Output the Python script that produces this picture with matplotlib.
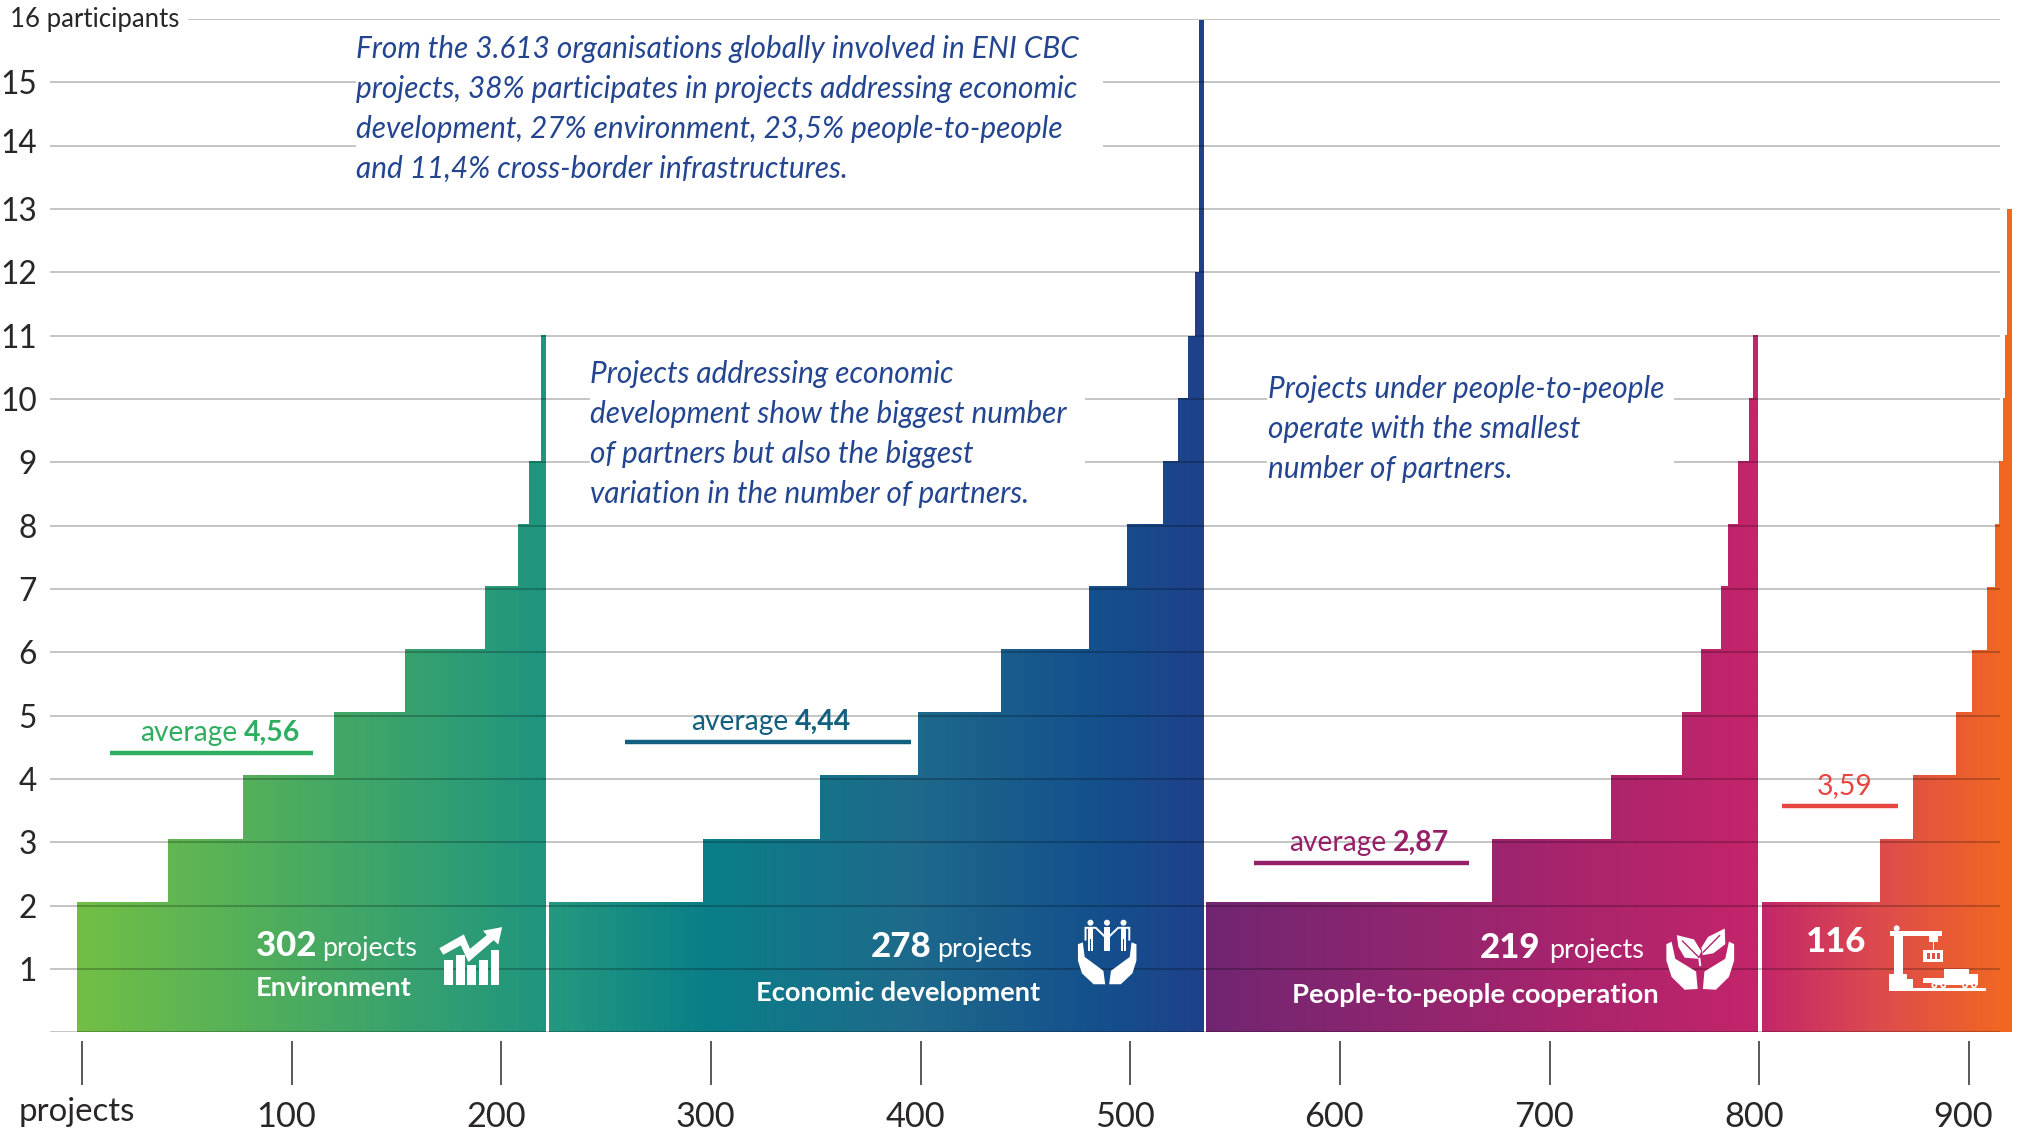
import matplotlib
matplotlib.use("Agg")
import numpy as np
import matplotlib.pyplot as plt
from matplotlib.colors import LinearSegmentedColormap
from matplotlib.patches import Polygon, Rectangle, Circle
from matplotlib.transforms import Affine2D, ScaledTranslation
from matplotlib.font_manager import FontProperties
from matplotlib.textpath import TextPath

# ---------- data (x values read on the "projects" axis, y on the "participants" axis) ----------
env_left = [-2.6, 41.0, 76.8, 120.4, 154.2, 192.0, 208.0, 213.0, 218.8]
env_top = [2.06, 3.06, 4.06, 5.06, 6.05, 7.05, 8.03, 9.02, 11.01]
env_right = 221.1
eco_left = [222.7, 296.2, 352.0, 398.6, 438.3, 480.2, 498.2, 515.7, 522.7, 527.7, 530.7, 532.8]
eco_top = [2.06, 3.06, 4.06, 5.06, 6.05, 7.05, 8.03, 9.02, 10.02, 11.0, 12.0, 15.98]
eco_right = 535.0
p2p_left = [536.3, 672.7, 729.3, 763.1, 772.3, 781.9, 785.0, 789.8, 794.9, 796.8]
p2p_top = [2.06, 3.06, 4.06, 5.06, 6.05, 7.05, 8.03, 9.02, 10.02, 11.01]
p2p_right = 799.2
inf_left = [801.2, 857.6, 873.5, 893.6, 901.6, 908.5, 912.4, 914.4, 916.4, 917.4, 918.3]
inf_top = [2.06, 3.06, 4.06, 5.06, 6.04, 7.03, 8.03, 9.02, 10.01, 11.01, 13.0]
inf_right = 920.5

env_stops = [(0, "#72bf44"), (1, "#1f9580")]
eco_stops = [(0, "#24997f"), (.24, "#0a7f88"), (.55, "#1e6a8b"), (.85, "#144f8d"), (1, "#1f4189")]
p2p_stops = [(0, "#712672"), (1, "#c4246a")]
inf_stops = [(0, "#c4266a"), (.45, "#dc4a4e"), (1, "#f3691f")]

avg_level = [4.41, 4.58, 2.67, 3.57]
avg_from = [13.3, 258.9, 559.0, 810.6]
avg_to = [110.3, 395.4, 661.6, 866.0]
avg_color = ["#2fae5f", "#135f7f", "#962067", "#e64540"]

x_ticks = [0, 100, 200, 300, 400, 500, 600, 700, 800, 900]
x_labels = ["", "100", "200", "300", "400", "500", "600", "700", "800", "900"]
y_ticks = list(range(1, 16))
grid_levels = list(range(0, 17))

note_1 = ["From the 3.613 organisations globally involved in ENI CBC",
          "projects, 38% participates in projects addressing economic",
          "development, 27% environment, 23,5% people-to-people",
          "and 11,4% cross-border infrastructures."]
note_2 = ["Projects addressing economic",
          "development show the biggest number",
          "of partners but also the biggest",
          "variation in the number of partners."]
note_3 = ["Projects under people-to-people",
          "operate with the smallest",
          "number of partners."]

# ---------- layout ----------
W, H = 2017, 1131
PX0, PXU = 82.0, 2.0966
Y0, Y16 = 1032.3, 19.0
FONT = "Lato"
INK = "#2a2627"
BLUE = "#234590"

fig = plt.figure(figsize=(W / 100, H / 100), dpi=100, facecolor="white")
ax = fig.add_axes([50 / W, (H - Y0) / H, (2013 - 50) / W, (Y0 - Y16) / H])
px = Affine2D().scale(1, -1).translate(0, H)   # figure pixels, top-left origin


def fit(s, width, **kw):
    fp = FontProperties(family=FONT, **kw)
    w = TextPath((0, 0), s, size=100, prop=fp).get_extents().width
    return 100 * width * 0.72 / w


def T(x, y, s, size, color=INK, **kw):
    ax.text(x, y + 1, s, transform=px, fontsize=size, color=color, family=FONT,
            va="baseline", ha=kw.pop("ha", "left"), clip_on=False, zorder=9, **kw)


def stairs(left, top, right, stops):
    xs, ys = [left[0]], [0]
    for i, (l, t) in enumerate(zip(left, top)):
        xs += [l, left[i + 1] if i + 1 < len(left) else right]
        ys += [t, t]
    xs += [right]
    ys += [0]
    poly = Polygon(np.column_stack([xs, ys]), closed=True, transform=ax.transData,
                   fc="none", ec="none")
    ax.add_patch(poly)
    cmap = LinearSegmentedColormap.from_list("g", stops, N=512)
    im = ax.imshow(np.linspace(0, 1, 512)[None, :], cmap=cmap, aspect="auto",
                   extent=(left[0], right, 0, max(top)), zorder=2, interpolation="bilinear")
    im.set_clip_path(poly)


stairs(env_left, env_top, env_right, env_stops)
stairs(eco_left, eco_top, eco_right, eco_stops)
stairs(p2p_left, p2p_top, p2p_right, p2p_stops)
stairs(inf_left, inf_top, inf_right, inf_stops)

ax.set_xlim((50 - PX0) / PXU, (2013 - PX0) / PXU)
ax.set_ylim(0, 16)

# gridlines over the bars
gx0 = (50 - PX0) / PXU
gx1 = (2000 - PX0) / PXU
for lv in grid_levels:
    start = (188 - PX0) / PXU if lv == 16 else gx0
    ax.hlines(lv, start, gx1, color="black", alpha=0.24, lw=1.35, zorder=3)

# white text backgrounds that interrupt the gridlines
for (a, b, c, d) in [(356, 30, 1103, 190), (590, 350, 1085, 510), (1267, 350, 1674, 490)]:
    ax.add_patch(Rectangle((a, b), c - a, d - b, transform=px, fc="white", ec="none", zorder=4))

# axes furniture
for s in ax.spines.values():
    s.set_visible(False)
ax.patch.set_visible(False)
ax.spines["bottom"].set_position(("outward", 6.5))
ax.set_xticks(x_ticks, x_labels)
ax.set_yticks(y_ticks, [str(v) for v in y_ticks])
size_tick = fit("100", 56)
ax.tick_params(axis="x", length=31.7, width=1.15, color="#333333", pad=11,
               labelsize=size_tick, labelcolor=INK)
ax.tick_params(axis="y", length=0, pad=9.4, labelsize=size_tick * 0.92, labelcolor=INK)
for lab in ax.get_xticklabels():
    lab.set_family(FONT)
    lab.set_transform(lab.get_transform() + ScaledTranslation(-4 / 72, 0, fig.dpi_scale_trans))
for v, lab in zip(y_ticks, ax.get_yticklabels()):
    lab.set_family(FONT)
    if v == 14:
        lab.set_transform(lab.get_transform() + ScaledTranslation(0, 3 / 72, fig.dpi_scale_trans))

T(10.5, 26.5, "16 participants", fit("16 participants", 166))
T(19, 1120, "projects", fit("projects", 113))

# notes
s1 = fit(note_1[1], 720, style="italic")
for line, y in zip(note_1, [56.7, 97.3, 136.7, 176.7]):
    T(356.3, y, line, s1, BLUE, style="italic")
for line, y in zip(note_2, [382, 422, 461.7, 502]):
    T(590.5, y, line, s1, BLUE, style="italic")
for line, y in zip(note_3, [396.7, 436.7, 476.7]):
    T(1267.5, y, line, s1, BLUE, style="italic")

# averages
ax.hlines(avg_level, avg_from, avg_to, colors=avg_color, lw=3.2, zorder=5)
s_avg = fit("average", 95)
s_avgb = fit("4,56", 55, weight="bold")
T(139.7, 739.5, "average", s_avg, avg_color[0])
T(243.8, 739.5, "4,56", s_avgb, avg_color[0], weight="bold")
T(691, 729, "average", s_avg, avg_color[1])
T(795, 729, "4,44", s_avgb, avg_color[1], weight="bold")
T(1289.6, 849.5, "average", s_avg, avg_color[2])
T(1392.8, 849.5, "2,87", s_avgb, avg_color[2], weight="bold")
T(1816.5, 793, "3,59", s_avgb, avg_color[3])

# white labels in the bars
s_num = fit("302", 58, weight="black")
s_prj = fit("projects", 92)
s_cat = fit("Economic development", 283, weight="bold")
for x, xp, y, n in [(255.6, 322, 955, "302"), (871, 937, 956, "278"), (1480, 1549, 957, "219")]:
    T(x, y, n, s_num, "white", weight="black")
    T(xp, y, "projects", s_prj, "white")
T(1805.5, 951.5, "116", s_num, "white", weight="black")
T(255.6, 995, "Environment", s_cat, "white", weight="bold")
T(756, 1000, "Economic development", s_cat, "white", weight="bold")
T(1291.7, 1001.7, "People-to-people cooperation", fit("People-to-people cooperation", 363, weight="bold"),
  "white", weight="bold")


# ---------- pictograms ----------
def poly(pts, x0, y0, kx, ky, fc="white", z=8):
    p = [(x0 + a / kx, y0 + b / ky) for a, b in pts]
    ax.add_patch(Polygon(p, closed=True, transform=px, fc=fc, ec="none", zorder=z, clip_on=False))


def line(pts, x0, y0, kx, ky, lw, color="white", z=8):
    xs = [x0 + a / kx for a, b in pts]
    ys = [y0 + b / ky for a, b in pts]
    ax.plot(xs, ys, transform=px, color=color, lw=lw, zorder=z, clip_on=False,
            solid_joinstyle="miter", solid_capstyle="butt")


def box(a, b, c, d, x0, y0, kx, ky, fc="white", z=8):
    poly([(a, b), (c, b), (c, d), (a, d)], x0, y0, kx, ky, fc, z)


def dot(a, b, r, x0, y0, kx, fc="white", ky=None, z=8):
    yy = y0 + b / (ky if ky else kx)
    ax.add_patch(Circle((x0 + a / kx, yy), r, transform=px, fc=fc, ec="none", zorder=z, clip_on=False))


# environment
e = (0, 560, 2.613, 2.746)
for a, c, top in [(1160, 1183, 1098), (1191, 1214, 1085), (1221, 1244, 1112), (1251, 1274, 1098), (1282, 1305, 1072)]:
    box(a, top, c, 1168, *e)
poly([(1148, 1066), (1212, 1028), (1228, 1068), (1272, 1030), (1262, 1018), (1312, 1008), (1302, 1056),
      (1290, 1044), (1224, 1104), (1204, 1058), (1158, 1084)], *e)

# economic development
c = (540, 560, 2.24, 2.746)
for cx in (1233, 1270, 1307):
    dot(cx, 996, 3.0, 540, 560, 2.24, ky=2.746)
    box(cx - 6, 1008, cx - 1, 1075, *c)
    box(cx + 1, 1008, cx + 6, 1075, *c)
    box(cx - 6, 1008, cx + 6, 1040, *c)
line([(1222, 1045), (1222, 1010), (1245, 1010), (1270, 1040), (1295, 1010), (1320, 1010), (1320, 1045)], *c, 1.4)
hand_e = [(1205, 1055), (1216, 1050), (1220, 1090), (1262, 1128), (1266, 1165), (1240, 1165), (1214, 1135), (1205, 1100)]
poly(hand_e, *c)
poly([(2 * 1270.5 - a, b) for a, b in hand_e], *c)

# people-to-people
p = (1200, 560, 1.919, 2.746)
hand_p = [(895, 1055), (905, 1048), (912, 1095), (952, 1130), (955, 1178), (930, 1180), (905, 1145), (895, 1100)]
poly(hand_p, *p)
poly([(2 * 960 - a, b) for a, b in hand_p], *p)
poly([(915, 1030), (948, 1042), (962, 1075), (955, 1095), (930, 1092), (918, 1062)], *p)
poly([(1007, 1012), (1008, 1055), (985, 1080), (965, 1085), (962, 1065), (975, 1035)], *p)
line([(925, 1045), (958, 1092)], *p, 1.0, "#b02468", 9)
line([(998, 1030), (965, 1078)], *p, 1.0, "#b02468", 9)
line([(958, 1092), (960, 1115)], *p, 1.5)

# infrastructure
i = (1860, 900, 3, 3)
box(102, 100, 128, 225, *i)
dot(110, 85, 3.0, 1860, 900, 3)
box(90, 92, 245, 108, *i)
box(207, 108, 233, 125, *i)
box(218, 125, 222, 150, *i)
box(190, 150, 250, 186, *i)
for a in (200, 215, 230):
    box(a, 160, a + 9, 178, *i, fc="#dd5347", z=9)
poly([(88, 222), (140, 222), (140, 238), (160, 238), (160, 264), (378, 264), (378, 273), (88, 273)], *i)
box(190, 233, 300, 248, *i)
box(253, 207, 327, 235, *i)
box(298, 222, 353, 255, *i)
box(215, 246, 300, 255, *i)
for a in (223, 250, 315, 342):
    dot(a, 256, 2.9, 1860, 900, 3, z=9)
    dot(a, 256, 1.2, 1860, 900, 3, fc="#e4574a", z=10)

fig.savefig("out.png", dpi=100, facecolor="white")
